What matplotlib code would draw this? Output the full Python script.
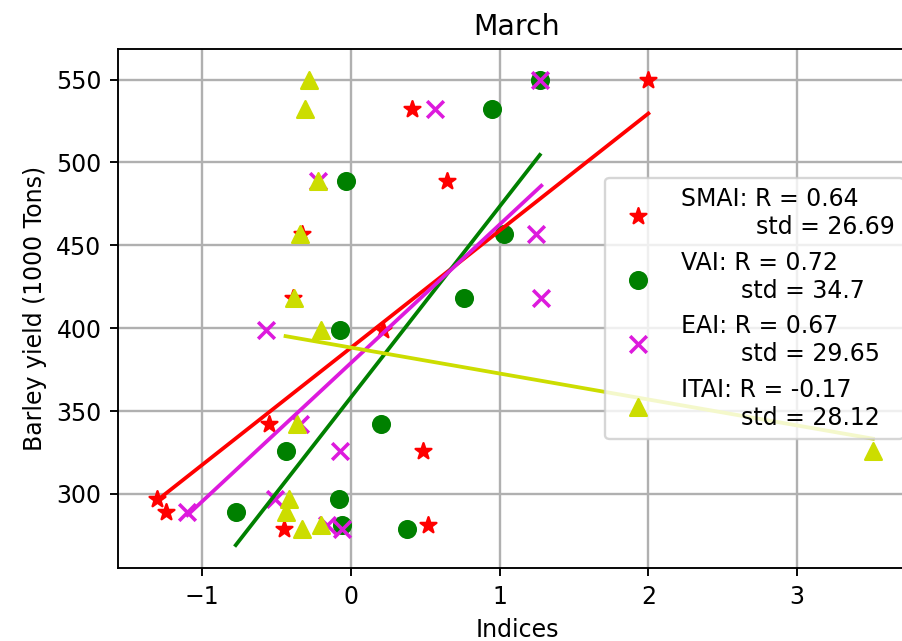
# scatter of barley yield against four indices, with a fitted line for each
import matplotlib
matplotlib.use('Agg')
import matplotlib.pyplot as plt
import numpy as np

# yield values (1000 Tons), same years for every index
barley = [550, 532, 489, 457, 418, 399, 342, 326, 297, 289, 279, 281]

smai = [2.0, 0.41, 0.645, -0.33, -0.39, 0.215, -0.55, 0.485, -1.305, -1.245, -0.45, 0.52]
vai = [1.27, 0.95, -0.035, 1.03, 0.76, -0.075, 0.20, -0.44, -0.08, -0.775, 0.375, -0.06]
eai = [1.27, 0.565, -0.22, 1.245, 1.28, -0.57, -0.34, -0.075, -0.51, -1.10, -0.06, -0.16]
itai = [-0.28, -0.31, -0.22, -0.34, -0.385, -0.20, -0.36, 3.51, -0.42, -0.44, -0.33, -0.20]

labels = ["SMAI: R = 0.64\n          std = 26.69",
          "VAI: R = 0.72\n        std = 34.7",
          "EAI: R = 0.67\n        std = 29.65",
          "ITAI: R = -0.17\n        std = 28.12"]
colors = ['red', 'green', '#dd1add', '#ccdd00']
markers = ['*', 'o', 'x', '^']


def main():
    fig = plt.figure(figsize=(902 / 170, 641 / 170), dpi=170)
    ax = fig.add_axes([118 / 902, 73 / 641, 798 / 902, 519 / 641])

    for xs, lab, c, m in zip([smai, vai, eai, itai], labels, colors, markers):
        ax.scatter(xs, barley, c=c, marker=m, s=50, label=lab)
        # least squares line between the smallest and largest index value
        k, b = np.polyfit(xs, barley, 1)
        xx = np.array([min(xs), max(xs)])
        ax.plot(xx, k * xx + b, color=c, linewidth=1.6)

    ax.set_xlim(-1.567, 3.80)
    ax.set_ylim(255.3, 568.4)
    ax.set_yticks([300, 350, 400, 450, 500, 550])
    ax.grid(True, linewidth=1.0)
    ax.set_axisbelow(True)
    ax.set_title('March')
    ax.set_xlabel('Indices')
    ax.set_ylabel('Barley yield (1000 Tons)')
    ax.legend(loc='center right')

    fig.savefig('out.png', dpi=170)


if __name__ == "__main__":
    main()
